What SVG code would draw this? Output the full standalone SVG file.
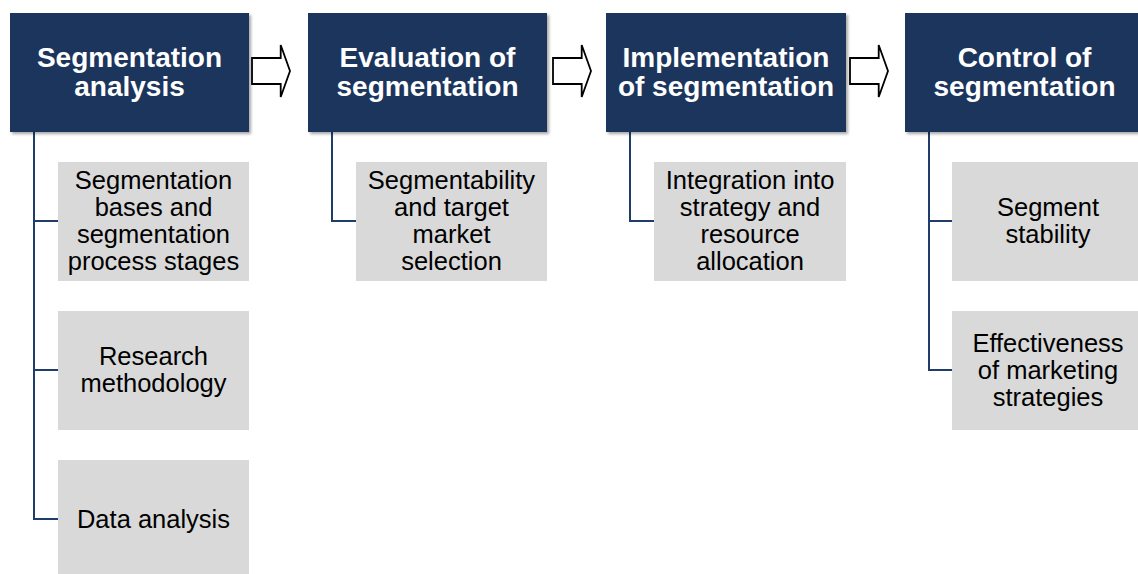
<svg xmlns="http://www.w3.org/2000/svg" width="1138" height="574" viewBox="0 0 1138 574">
<style>
.hdr{fill:#1b365d;filter:url(#sh);}
.sub{fill:#d9d9d9;}
.ht{font-family:"Liberation Sans",Arial,sans-serif;font-weight:bold;font-size:28px;fill:#ffffff;text-anchor:middle;}
.st{font-family:"Liberation Sans",Arial,sans-serif;font-size:25.5px;fill:#000000;text-anchor:middle;}
.ln{fill:none;stroke:#1f3d6b;stroke-width:2;}
.ar{fill:#ffffff;stroke:#000000;stroke-width:1.8;stroke-linejoin:miter;}
</style>
<defs>
<filter id="sh" x="-10%" y="-10%" width="130%" height="130%">
<feGaussianBlur in="SourceAlpha" stdDeviation="1.5"/>
<feOffset dx="1.5" dy="2" result="b"/>
<feComponentTransfer><feFuncA type="linear" slope="0.35"/></feComponentTransfer>
<feMerge><feMergeNode/><feMergeNode in="SourceGraphic"/></feMerge>
</filter>
<path id="arrow" d="M252,58 H280.7 V45 L290,71 L280.7,97 V84 H252 Z"/>
</defs>
<rect width="1138" height="574" fill="#ffffff"/>

<g id="connectors">
<path class="ln" d="M34,132 V519 H58 M34,221 H58 M34,370 H58"/>
<path class="ln" d="M332,132 V221 H356"/>
<path class="ln" d="M630,132 V221 H654"/>
<path class="ln" d="M929,132 V370 H952 M929,221 H952"/>
<use href="#arrow" class="ar"/>
<use href="#arrow" class="ar" transform="translate(301,0)"/>
<use href="#arrow" class="ar" transform="translate(598,0)"/>
</g>

<g id="h1"><rect class="hdr" x="10" y="13" width="239" height="119"/>
<text class="ht" x="129.5" y="67">Segmentation</text><text class="ht" x="129.5" y="96">analysis</text></g>
<g id="h2"><rect class="hdr" x="308" y="13" width="239" height="119"/>
<text class="ht" x="427.5" y="67">Evaluation of</text><text class="ht" x="427.5" y="96">segmentation</text></g>
<g id="h3"><rect class="hdr" x="606" y="13" width="240" height="119"/>
<text class="ht" x="726" y="67">Implementation</text><text class="ht" x="726" y="96">of segmentation</text></g>
<g id="h4"><rect class="hdr" x="905" y="13" width="239" height="119"/>
<text class="ht" x="1024.5" y="67">Control of</text><text class="ht" x="1024.5" y="96">segmentation</text></g>

<g id="s1a"><rect class="sub" x="58" y="162" width="191" height="119"/>
<text class="st" x="153.5" y="189">Segmentation</text><text class="st" x="153.5" y="216">bases and</text><text class="st" x="153.5" y="243">segmentation</text><text class="st" x="153.5" y="270">process stages</text></g>
<g id="s1b"><rect class="sub" x="58" y="311" width="191" height="119"/>
<text class="st" x="153.5" y="365">Research</text><text class="st" x="153.5" y="392">methodology</text></g>
<g id="s1c"><rect class="sub" x="58" y="460" width="191" height="119"/>
<text class="st" x="153.5" y="528">Data analysis</text></g>

<g id="s2"><rect class="sub" x="356" y="162" width="191" height="119"/>
<text class="st" x="451.5" y="189">Segmentability</text><text class="st" x="451.5" y="216">and target</text><text class="st" x="451.5" y="243">market</text><text class="st" x="451.5" y="270">selection</text></g>

<g id="s3"><rect class="sub" x="654" y="162" width="192" height="119"/>
<text class="st" x="750" y="189">Integration into</text><text class="st" x="750" y="216">strategy and</text><text class="st" x="750" y="243">resource</text><text class="st" x="750" y="270">allocation</text></g>

<g id="s4a"><rect class="sub" x="952" y="162" width="192" height="119"/>
<text class="st" x="1048" y="216">Segment</text><text class="st" x="1048" y="243">stability</text></g>
<g id="s4b"><rect class="sub" x="952" y="311" width="192" height="119"/>
<text class="st" x="1048" y="352">Effectiveness</text><text class="st" x="1048" y="379">of marketing</text><text class="st" x="1048" y="406">strategies</text></g>
</svg>
